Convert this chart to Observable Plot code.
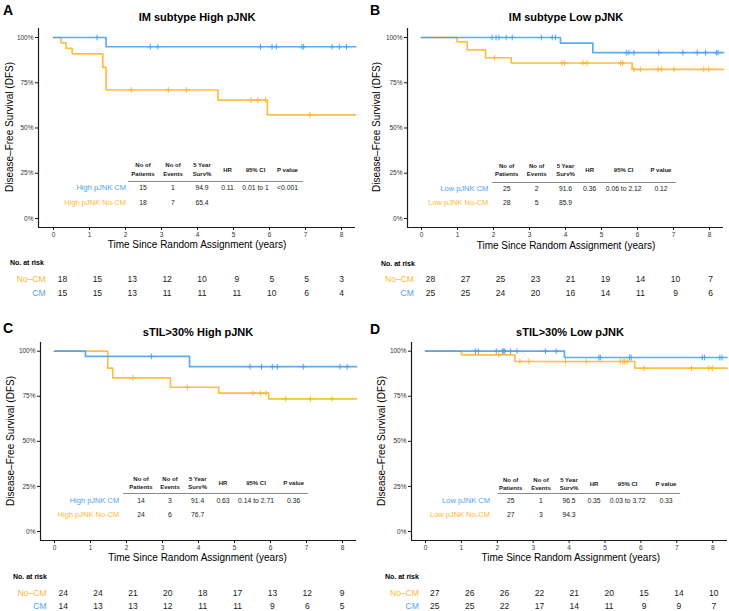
<!DOCTYPE html>
<html>
<head>
<meta charset="utf-8">
<script src="https://cdn.jsdelivr.net/npm/d3@7"></script>
<script src="https://cdn.jsdelivr.net/npm/@observablehq/plot@0.6"></script>
<style>
  body { margin: 0; background: #fff; }
  #fig { position: relative; width: 729px; height: 611px; overflow: hidden;
         font-family: "Liberation Sans", Arial, Helvetica, sans-serif; }
  #fig svg { position: absolute; overflow: visible; }
</style>
</head>
<body>
<div id="fig"></div>
<script>
// ---- data ----
const panelLetters = ["A", "B", "C", "D"];
const panelTitles = ["IM subtype High pJNK", "IM subtype Low pJNK", "sTIL>30% High pJNK", "sTIL>30% Low pJNK"];
const groups = ["No–CM", "CM"];

// Kaplan–Meier steps: [time (years), survival] at start and after each event
const noCmSteps = [
  [[0, 1], [0.21, 0.97], [0.35, 0.94], [0.52, 0.91], [1.37, 0.835], [1.46, 0.71], [4.57, 0.654], [5.94, 0.573]],
  [[0, 1], [0.99, 0.976], [1.27, 0.932], [1.78, 0.888], [2.49, 0.859], [5.85, 0.824]],
  [[0, 1], [1.48, 0.906], [1.62, 0.852], [3.22, 0.80], [4.56, 0.767], [5.95, 0.736]],
  [[0, 1], [1.0, 0.98], [2.49, 0.943], [5.83, 0.906]]
];
const cmSteps = [
  [[0, 1], [1.46, 0.949]],
  [[0, 1], [3.86, 0.969], [4.76, 0.916]],
  [[0, 1], [0.86, 0.971], [3.75, 0.914]],
  [[0, 1], [3.87, 0.965]]
];
// censoring times (years)
const noCmCensor = [
  [2.16, 3.19, 3.69, 5.49, 5.68, 5.89, 7.12],
  [2.03, 3.90, 3.97, 4.48, 4.60, 5.53, 5.59, 5.90, 6.08, 6.57, 6.67, 7.01, 7.84, 7.98],
  [2.18, 3.69, 5.51, 5.72, 5.88, 6.42, 7.11, 7.71],
  [2.04, 2.63, 2.88, 3.90, 4.48, 5.43, 5.50, 5.55, 5.62, 6.08, 7.41, 7.89, 7.99]
];
const cmCensor = [
  [1.21, 2.69, 2.90, 5.75, 6.07, 6.19, 6.90, 6.95, 7.74, 7.94, 8.14],
  [1.96, 2.07, 2.15, 2.35, 2.52, 3.33, 3.63, 3.72, 5.69, 5.76, 5.90, 6.59, 7.26, 7.66, 7.89, 8.19, 8.24],
  [2.69, 5.43, 5.75, 6.05, 6.19, 6.91, 7.93, 8.13],
  [1.39, 1.47, 1.97, 2.14, 2.18, 2.21, 2.37, 2.55, 3.34, 3.64, 4.83, 4.87, 5.68, 5.73, 7.71, 7.77, 8.20, 8.26]
];
const followUpEnd = [8.39, 8.39, 8.39, 8.4];

const xTicks = [0, 1, 2, 3, 4, 5, 6, 7, 8];
const yTicks = [0, 0.25, 0.5, 0.75, 1];
const yTickLabels = ["0%", "25%", "50%", "75%", "100%"];

// numbers at risk at each year
const riskTimes = [0, 1, 2, 3, 4, 5, 6, 7, 8];
const riskNoCm = [
  [18, 15, 13, 12, 10, 9, 5, 5, 3],
  [28, 27, 25, 23, 21, 19, 14, 10, 7],
  [24, 24, 21, 20, 18, 17, 13, 12, 9],
  [27, 26, 26, 22, 21, 20, 15, 14, 10]
];
const riskCm = [
  [15, 15, 13, 11, 11, 11, 10, 6, 4],
  [25, 25, 24, 20, 16, 14, 11, 9, 6],
  [14, 13, 13, 12, 11, 11, 9, 6, 5],
  [25, 25, 22, 17, 14, 11, 9, 9, 7]
];

// summary table
const tableHeaders = [["No of", "Patients"], ["No of", "Events"], ["5 Year", "Surv%"], ["HR"], ["95% CI"], ["P value"]];
const rowLabels = [
  ["High pJNK CM", "High pJNK No-CM"],
  ["Low pJNK CM", "Low pJNK No-CM"],
  ["High pJNK CM", "High pJNK No-CM"],
  ["Low pJNK CM", "Low pJNK No-CM"]
];
const patients = [[15, 18], [25, 28], [14, 24], [25, 27]];
const events = [[1, 7], [2, 5], [3, 6], [1, 3]];
const surv5 = [["94.9", "65.4"], ["91.6", "85.9"], ["91.4", "76.7"], ["96.5", "94.3"]];
const hazardRatio = ["0.11", "0.36", "0.63", "0.35"];
const confInt = ["0.01 to 1", "0.06 to 2.12", "0.14 to 2.71", "0.03 to 3.72"];
const pValue = ["<0.001", "0.12", "0.36", "0.33"];

// ---- styling / layout ----
const BLUE = "#4aa3f2";
const ORANGE = "#ffb730";
const INK = "#1a1a1a";
const FONT = "Liberation Sans, Arial, Helvetica, sans-serif";

// pixel layout of each panel
const layout = [
  { left: 0,   top: 0,   axisX: 38,  x0: 53,  ppy: 36,   xEnd: 355, axisTop: 28,  y100: 37,    y0: 218, axisBottom: 227,
    letter: [3, 10], title: [197, 17], yLab: [10, 127], xLab: [197, 245],
    tab: { cols: [143, 173, 202, 227.5, 255.5, 287.5], h1: 165, h2: 174, hm: 169.5, rule: 181, r1: 128, r2: 303, rows: [188, 203], lab: 126 },
    risk: { x0: 62, x8: 341, yNo: 279, yCm: 293, labR: 45, headX: 10, headY: 262 } },
  { left: 365, top: 0,   axisX: 407, x0: 421, ppy: 36,   xEnd: 723, axisTop: 28,  y100: 37,    y0: 218, axisBottom: 227,
    letter: [370, 10], title: [566, 17], yLab: [377, 127], xLab: [566, 245.5],
    tab: { cols: [506.7, 536.7, 565.5, 589.7, 623.7, 661], h1: 165.7, h2: 174.3, hm: 170, rule: 181.7, r1: 491.7, r2: 675.7, rows: [188.7, 203.3], lab: 488.3 },
    risk: { x0: 430, x8: 710, yNo: 279.3, yCm: 293.3, labR: 413.3, headX: 381, headY: 263 } },
  { left: 0,   top: 314, axisX: 40,  x0: 54,  ppy: 36,   xEnd: 356, axisTop: 342, y100: 350.7, y0: 531, axisBottom: 540,
    letter: [3, 328], title: [198, 332], yLab: [11, 441], xLab: [197.5, 557.7],
    tab: { cols: [141, 170, 197.7, 223, 256, 293.6], h1: 479, h2: 487.3, hm: 483, rule: 493.3, r1: 123.3, r2: 308.3, rows: [500.7, 515.3], lab: 119.3 },
    risk: { x0: 62.7, x8: 341.7, yNo: 592.7, yCm: 606, labR: 46, headX: 13, headY: 576 } },
  { left: 365, top: 314, axisX: 411, x0: 425, ppy: 35.9, xEnd: 727, axisTop: 342, y100: 350.7, y0: 531, axisBottom: 540,
    letter: [370, 329], title: [570, 332], yLab: [382, 441], xLab: [570.8, 557.7],
    tab: { cols: [510.7, 541, 569, 594, 627.7, 666], h1: 480, h2: 487.7, hm: 484, rule: 493.3, r1: 497.7, r2: 680, rows: [501.3, 515.3], lab: 490 },
    risk: { x0: 434.3, x8: 713.3, yNo: 593, yCm: 606, labR: 418.3, headX: 385, headY: 576 } }
];

const fig = document.getElementById("fig");

function label(text, x, y, o = {}) {
  const d = document.createElement("div");
  d.textContent = text;
  const tx = o.anchor === "end" ? "-100%" : o.anchor === "start" ? "0" : "-50%";
  d.style.cssText =
    `position:absolute;left:${x}px;top:${y}px;white-space:nowrap;line-height:1;` +
    `font-size:${o.size || 7}px;font-weight:${o.bold ? "bold" : "normal"};color:${o.color || INK};` +
    `transform:translate(${tx},-50%)${o.rotate ? " rotate(-90deg)" : ""};`;
  fig.appendChild(d);
}

function place(svg, left, top) {
  svg.style.left = left + "px";
  svg.style.top = top + "px";
  fig.appendChild(svg);
}

function survAt(steps, t) {
  let s = steps[0][1];
  for (const [ti, si] of steps) if (ti <= t) s = si;
  return s;
}

function curve(steps, end) {
  const pts = steps.map(([t, s]) => ({ t, s }));
  pts.push({ t: end, s: steps[steps.length - 1][1] });
  return pts;
}

function censorPoints(steps, times) {
  return times.map(t => ({ t, s: survAt(steps, t) }));
}

layout.forEach((L, i) => {
  const W = 364, H = L.axisBottom - L.top + 28;
  const xmin = (L.axisX - L.x0) / L.ppy, xmax = (L.xEnd - L.x0) / L.ppy;
  const ppu = L.y0 - L.y100;
  const ymin = (L.y0 - L.axisBottom) / ppu, ymax = (L.y0 - L.axisTop) / ppu;

  const km = Plot.plot({
    width: W, height: H,
    marginLeft: L.axisX - L.left,
    marginRight: L.left + W - L.xEnd,
    marginTop: L.axisTop - L.top,
    marginBottom: L.top + H - L.axisBottom,
    x: { domain: [xmin, xmax] },
    y: { domain: [ymin, ymax] },
    style: { fontFamily: FONT, fontSize: "6.5px", color: "#333", background: "transparent" },
    marks: [
      Plot.axisX({ ticks: xTicks, tickSize: 3, tickPadding: 1.5, label: null, tickFormat: d => String(d), stroke: INK }),
      Plot.axisY({ ticks: yTicks, tickSize: 3, tickPadding: 2, label: null,
                   tickFormat: d => yTickLabels[yTicks.indexOf(d)], stroke: INK }),
      Plot.ruleY([ymin], { stroke: INK, strokeWidth: 1.2 }),
      Plot.ruleX([xmin], { stroke: INK, strokeWidth: 1.2 }),
      Plot.line(curve(noCmSteps[i], followUpEnd[i]), { x: "t", y: "s", curve: "step-after", stroke: ORANGE, strokeWidth: 1.7, strokeOpacity: 0.9 }),
      Plot.dot(censorPoints(noCmSteps[i], noCmCensor[i]), { x: "t", y: "s", symbol: "plus", r: 2, stroke: ORANGE, strokeWidth: 1 }),
      Plot.line(curve(cmSteps[i], followUpEnd[i]), { x: "t", y: "s", curve: "step-after", stroke: BLUE, strokeWidth: 1.7, strokeOpacity: 0.9 }),
      Plot.dot(censorPoints(cmSteps[i], cmCensor[i]), { x: "t", y: "s", symbol: "plus", r: 2, stroke: BLUE, strokeWidth: 1 })
    ]
  });
  place(km, L.left, L.top);

  // panel letter, title, axis titles
  label(panelLetters[i], L.letter[0], L.letter[1], { anchor: "start", size: 14, bold: true, color: "#000" });
  label(panelTitles[i], L.title[0], L.title[1], { size: 11, bold: true, color: "#000" });
  label("Disease–Free Survival (DFS)", L.yLab[0], L.yLab[1], { size: 10, rotate: true, color: "#000" });
  label("Time Since Random Assignment (years)", L.xLab[0], L.xLab[1], { size: 10, color: "#000" });

  // summary table
  const T = L.tab;
  tableHeaders.forEach((h, c) => {
    if (h.length === 2) {
      label(h[0], T.cols[c], T.h1, { size: 6, bold: true });
      label(h[1], T.cols[c], T.h2, { size: 6, bold: true });
    } else {
      label(h[0], T.cols[c], T.hm, { size: 6, bold: true });
    }
  });
  const rule = document.createElement("div");
  rule.style.cssText = `position:absolute;left:${T.r1}px;top:${T.rule}px;width:${T.r2 - T.r1}px;height:0;border-top:1px solid #8a8a8a;`;
  fig.appendChild(rule);
  const rowColors = [BLUE, ORANGE];
  [0, 1].forEach(r => {
    const y = T.rows[r];
    label(rowLabels[i][r], T.lab, y, { anchor: "end", size: 7.5, color: rowColors[r] });
    label(String(patients[i][r]), T.cols[0], y, { size: 6.8 });
    label(String(events[i][r]), T.cols[1], y, { size: 6.8 });
    label(surv5[i][r], T.cols[2], y, { size: 6.8 });
    if (r === 0) {
      label(hazardRatio[i], T.cols[3], y, { size: 6.8 });
      label(confInt[i], T.cols[4], y, { size: 6.8 });
      label(pValue[i], T.cols[5], y, { size: 6.8 });
    }
  });

  // numbers at risk
  const R = L.risk;
  const rTop = R.yNo - 24;
  const riskRows = [];
  riskTimes.forEach((t, k) => {
    riskRows.push({ t, group: groups[0], n: riskNoCm[i][k] });
    riskRows.push({ t, group: groups[1], n: riskCm[i][k] });
  });
  const risk = Plot.plot({
    width: W, height: 46,
    marginLeft: R.labR - L.left, marginRight: 0, marginTop: 0, marginBottom: 0,
    x: { domain: [0, 8], range: [R.x0 - L.left, R.x8 - L.left], axis: null },
    y: { type: "point", domain: groups, range: [R.yNo - rTop, R.yCm - rTop], padding: 0, axis: null },
    style: { fontFamily: FONT, background: "transparent" },
    marks: [
      Plot.text(riskRows, { x: "t", y: "group", text: d => String(d.n), fontSize: 8.5, fill: INK }),
      Plot.text([groups[0]], { y: d => d, text: d => d, frameAnchor: "left", textAnchor: "end", fontSize: 8.5, fill: ORANGE }),
      Plot.text([groups[1]], { y: d => d, text: d => d, frameAnchor: "left", textAnchor: "end", fontSize: 8.5, fill: BLUE })
    ]
  });
  place(risk, L.left, rTop);
  label("No. at risk", R.headX, R.headY, { anchor: "start", size: 7, bold: true, color: "#000" });
});
</script>
</body>
</html>
